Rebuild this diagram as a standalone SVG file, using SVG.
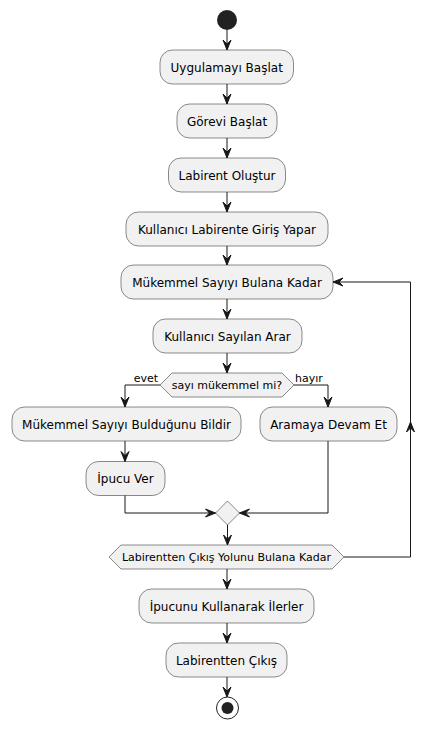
<svg xmlns="http://www.w3.org/2000/svg" width="435" height="729" viewBox="0 0 435 729">
<style>
.box{fill:#F1F1F1;stroke:#181818;stroke-width:0.5}
.t{font-family:"DejaVu Sans","Noto Sans",sans-serif;font-size:12px;fill:#000;text-anchor:middle}
.s{font-family:"DejaVu Sans","Noto Sans",sans-serif;font-size:11px;fill:#000}
.ln{fill:none;stroke:#181818;stroke-width:1}
.ah{fill:#181818;stroke:#181818;stroke-width:1}
</style>
<rect width="435" height="729" fill="#FFFFFF"/>
<g id="start"><circle cx="227" cy="20" r="10" fill="#222222"/></g>
<g id="n1"><rect class="box" x="160" y="50" width="133.5" height="34" rx="12.5"/><text class="t" x="226.7" y="71.5">Uygulamayı Başlat</text></g>
<g id="n2"><rect class="box" x="177" y="104" width="100" height="34" rx="12.5"/><text class="t" x="227" y="125.5">Görevi Başlat</text></g>
<g id="n3"><rect class="box" x="168.5" y="158" width="117" height="34" rx="12.5"/><text class="t" x="227" y="179.5">Labirent Oluştur</text></g>
<g id="n4"><rect class="box" x="126" y="212" width="202" height="34" rx="12.5"/><text class="t" x="227" y="233.5">Kullanıcı Labirente Giriş Yapar</text></g>
<g id="n5"><rect class="box" x="121" y="265" width="212" height="34" rx="12.5"/><text class="t" x="227" y="286.5">Mükemmel Sayıyı Bulana Kadar</text></g>
<g id="n6"><rect class="box" x="153" y="319" width="149" height="34" rx="12.5"/><text class="t" x="227.5" y="340.5">Kullanıcı Sayılan Arar</text></g>
<g id="d1"><polygon class="box" points="160,385 172,373 282,373 294,385 282,397 172,397"/><text class="s" x="227" y="389" text-anchor="middle">sayı mükemmel mi?</text></g>
<g id="n7"><rect class="box" x="12" y="407" width="229" height="34" rx="12.5"/><text class="t" x="126.5" y="428.5">Mükemmel Sayıyı Bulduğunu Bildir</text></g>
<g id="n8"><rect class="box" x="260" y="407" width="137" height="34" rx="12.5"/><text class="t" x="328.5" y="428.5">Aramaya Devam Et</text></g>
<g id="n9"><rect class="box" x="86" y="461.5" width="79" height="34" rx="12.5"/><text class="t" x="125.5" y="483">İpucu Ver</text></g>
<g id="m1"><polygon class="box" points="227.5,501 239.5,513 227.5,525 215.5,513"/></g>
<g id="d2"><polygon class="box" points="109,557 121,545 332,545 344,557 332,569 121,569"/><text class="s" x="226.5" y="561" text-anchor="middle">Labirentten Çıkış Yolunu Bulana Kadar</text></g>
<g id="n10"><rect class="box" x="139" y="589" width="175" height="34" rx="12.5"/><text class="t" x="226.5" y="610.5">İpucunu Kullanarak İlerler</text></g>
<g id="n11"><rect class="box" x="166" y="643" width="121" height="34" rx="12.5"/><text class="t" x="226.5" y="664.5">Labirentten Çıkış</text></g>
<g id="end"><circle cx="227.5" cy="708" r="11" fill="none" stroke="#222222" stroke-width="1"/><circle cx="227.5" cy="708" r="6" fill="#222222"/></g>
<g id="connectors">
<line class="ln" x1="227" y1="30" x2="227" y2="50"/><polygon class="ah" points="223,40 227,50 231,40 227,44"/>
<line class="ln" x1="227" y1="84" x2="227" y2="104"/><polygon class="ah" points="223,94 227,104 231,94 227,98"/>
<line class="ln" x1="227" y1="138" x2="227" y2="158"/><polygon class="ah" points="223,148 227,158 231,148 227,152"/>
<line class="ln" x1="227" y1="192" x2="227" y2="212"/><polygon class="ah" points="223,202 227,212 231,202 227,206"/>
<line class="ln" x1="227" y1="246" x2="227" y2="265"/><polygon class="ah" points="223,255 227,265 231,255 227,259"/>
<line class="ln" x1="227" y1="299" x2="227" y2="319"/><polygon class="ah" points="223,309 227,319 231,309 227,313"/>
<line class="ln" x1="227" y1="353" x2="227" y2="373"/><polygon class="ah" points="223,363 227,373 231,363 227,367"/>
<polyline class="ln" points="160,385 125,385 125,407"/><polygon class="ah" points="121,397 125,407 129,397 125,401"/>
<text class="s" x="158" y="382" text-anchor="end">evet</text>
<polyline class="ln" points="294,385 328,385 328,407"/><polygon class="ah" points="324,397 328,407 332,397 328,401"/>
<text class="s" x="295" y="382">hayır</text>
<line class="ln" x1="125" y1="441" x2="125" y2="461.5"/><polygon class="ah" points="121,451.5 125,461.5 129,451.5 125,455.5"/>
<polyline class="ln" points="125,495.5 125,513 215.5,513"/><polygon class="ah" points="205.5,509 215.5,513 205.5,517 209.5,513"/>
<polyline class="ln" points="328,441 328,513 239.5,513"/><polygon class="ah" points="249.5,509 239.5,513 249.5,517 245.5,513"/>
<line class="ln" x1="227.5" y1="525" x2="227.5" y2="545"/><polygon class="ah" points="223.5,535 227.5,545 231.5,535 227.5,539"/>
<polyline class="ln" points="344,557 410.5,557 410.5,282 333,282"/>
<polygon class="ah" points="406.5,432 410.5,422 414.5,432 410.5,428"/>
<polygon class="ah" points="343,278 333,282 343,286 339,282"/>
<line class="ln" x1="227" y1="569" x2="227" y2="589"/><polygon class="ah" points="223,579 227,589 231,579 227,583"/>
<line class="ln" x1="227" y1="623" x2="227" y2="643"/><polygon class="ah" points="223,633 227,643 231,633 227,637"/>
<line class="ln" x1="227" y1="677" x2="227" y2="697"/><polygon class="ah" points="223,687 227,697 231,687 227,691"/>
</g>
</svg>
